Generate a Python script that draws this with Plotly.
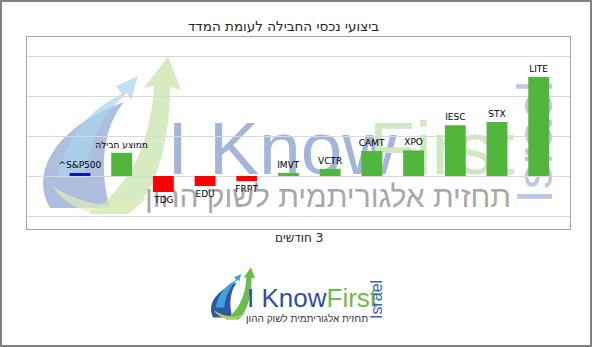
import plotly.graph_objects as go

# ---------------- data ----------------
categories = ["^S&P500", "ממוצע חבילה", "TDG", "EDU", "FRPT", "IMVT",
              "VCTR", "CAMT", "XPO", "IESC", "STX", "LITE"]
returns = [0.75, 5.8, -4.0, -2.5, -1.3, 0.75, 1.8, 6.25, 6.4, 12.7, 13.5, 24.75]
chart_title = "ביצועי נכסי החבילה לעומת המדד"
period_label = "3 חודשים"
brand_left = "I Know"
brand_right = "First"
brand_tagline = "תחזית אלגוריתמית לשוק ההון"
brand_country = "Israel"

benchmark_color = "#1212cc"
gain_color = "#52b63d"
loss_color = "#ff0000"

# ---------------- geometry helpers ----------------
W, H = 592, 347
L, R, T, B = 27, 22, 37, 118
PW = W - L - R
PH = H - T - B


def px(x):
    return (x - L) / PW


def py(y):
    return (H - B - y) / PH


def path_str(cmds, tf=lambda x, y: (x, y)):
    out = []
    for c, pts in cmds:
        s = c
        for (x, y) in pts:
            X, Y = tf(x, y)
            s += f" {px(X):.5f},{py(Y):.5f}"
        out.append(s)
    return " ".join(out)


# swoosh icon defined in watermark pixel space
crescent = [("M", [(50, 208)]), ("C", [(28, 168), (62, 124), (124, 102)]),
            ("C", [(104, 126), (98, 166), (110, 208)]), ("Z", [])]
blue_arrow = [("M", [(58, 178)]), ("C", [(66, 132), (96, 106), (122, 94)]),
              ("L", [(116, 86)]), ("L", [(138, 76)]), ("L", [(131, 100)]),
              ("L", [(127, 93)]), ("C", [(104, 112), (90, 140), (84, 178)]), ("Z", [])]
green_arrow = [("M", [(88, 214)]), ("C", [(126, 190), (150, 150), (154, 86)]),
               ("L", [(144, 88)]), ("L", [(168, 56)]), ("L", [(181, 90)]),
               ("L", [(170, 87)]), ("C", [(170, 150), (152, 200), (128, 214)]), ("Z", [])]
low_swoosh = [("M", [(52, 186)]), ("C", [(76, 220), (122, 222), (150, 196)]),
              ("C", [(120, 210), (86, 208), (52, 186)]), ("Z", [])]


def logo_tf(x, y):
    return (210 + (x - 40) * 0.32, 268 + (y - 58) * 0.33)


shapes = []
# watermark swooshes (below traces)
for cmds, col in [(crescent, "rgba(140,162,208,0.7)"),
                  (blue_arrow, "rgba(165,212,240,0.7)"),
                  (green_arrow, "rgba(196,226,166,0.7)"),
                  (low_swoosh, "rgba(222,236,184,0.7)")]:
    shapes.append(dict(type="path", xref="paper", yref="paper", path=path_str(cmds),
                       fillcolor=col, line=dict(width=0), layer="below"))


def label_rect(x0, x1, y0, y1, text, color, size, family, angle=0):
    return dict(type="rect", xref="paper", yref="paper",
                x0=px(x0), x1=px(x1), y0=py(y1), y1=py(y0),
                line=dict(width=0), fillcolor="rgba(0,0,0,0)", layer="below",
                label=dict(text=text, textposition="middle center", textangle=angle,
                           font=dict(color=color, size=size, family=family)))


wm_font = "Liberation Sans, sans-serif"
shapes.append(label_rect(182, 382, 100, 182, brand_left, "#a3b6d9", 75, wm_font))
shapes.append(label_rect(369, 515, 100, 182, brand_right, "#cfe7c2", 75, wm_font))
shapes.append(label_rect(146, 510, 178, 208, brand_tagline, "#a8a8a8", 30,
                         "Liberation Sans, DejaVu Sans"))
shapes.append(label_rect(505, 555, 82, 202, brand_country, "#bcc8e2", 50,
                         "Liberation Sans, DejaVu Sans", angle=-90))

# bottom logo swooshes
for cmds, col in [(crescent, "#2f57a5"), (blue_arrow, "#3fa2dd"),
                  (green_arrow, "#6cbd45"), (low_swoosh, "#a9d25c")]:
    shapes.append(dict(type="path", xref="paper", yref="paper", path=path_str(cmds, logo_tf),
                       fillcolor=col, line=dict(width=0), layer="above"))

# outer frame
shapes.append(dict(type="rect", xref="paper", yref="paper",
                   x0=px(1), x1=px(591), y0=py(346), y1=py(1),
                   line=dict(color="#808080", width=2), fillcolor="rgba(0,0,0,0)"))

bar_colors = [benchmark_color] + [gain_color if v >= 0 else loss_color for v in returns[1:]]

fig = go.Figure(go.Bar(
    x=categories, y=returns, width=0.5,
    marker=dict(color=bar_colors, line=dict(width=0)),
    text=categories, textposition="outside", constraintext="none", cliponaxis=False,
    textfont=dict(family="DejaVu Sans", size=9, color="#000000"),
    hoverinfo="skip",
))

brand_html = (f"<span style='color:#2d4f9e'>{brand_left}</span>"
              f"<span style='color:#6dbb47'>{brand_right}</span>")

annotations = [
    dict(text=chart_title, x=px(283), y=py(26), xref="paper", yref="paper",
         showarrow=False, xanchor="center", yanchor="middle",
         font=dict(family="DejaVu Sans", size=13.5, color="#262626")),
    dict(text="\u200f" + period_label, x=px(299), y=py(238), xref="paper", yref="paper",
         showarrow=False, xanchor="center", yanchor="middle",
         font=dict(family="DejaVu Sans", size=12, color="#262626")),
    dict(text=brand_html, x=px(312), y=py(298), xref="paper", yref="paper",
         showarrow=False, xanchor="center", yanchor="middle",
         font=dict(family="Liberation Sans, sans-serif", size=26, color="#2d4f9e")),
    dict(text=brand_tagline, x=px(307), y=py(318), xref="paper", yref="paper",
         showarrow=False, xanchor="center", yanchor="middle",
         font=dict(family="Liberation Sans, DejaVu Sans", size=10, color="#333333")),
    dict(text=brand_country, x=px(376), y=py(300), xref="paper", yref="paper",
         showarrow=False, xanchor="center", yanchor="middle", textangle=-90,
         font=dict(family="Liberation Sans, DejaVu Sans", size=16, color="#3a64b0")),
]

fig.update_layout(
    width=W, height=H,
    margin=dict(l=L, r=R, t=T, b=B, pad=0),
    paper_bgcolor="white", plot_bgcolor="white",
    showlegend=False,
    shapes=shapes, annotations=annotations,
    xaxis=dict(type="category", range=[-1.27, 11.75], showticklabels=False,
               showgrid=False, zeroline=False, ticks="",
               showline=True, mirror=True, linecolor="#a6a6a6", linewidth=1),
    yaxis=dict(range=[-13.25, 34.75], tick0=0, dtick=10, showticklabels=False,
               showgrid=True, gridcolor="#d9d9d9", gridwidth=1, zeroline=False, ticks="",
               showline=True, mirror=True, linecolor="#a6a6a6", linewidth=1),
)

fig.write_html("out.html")
